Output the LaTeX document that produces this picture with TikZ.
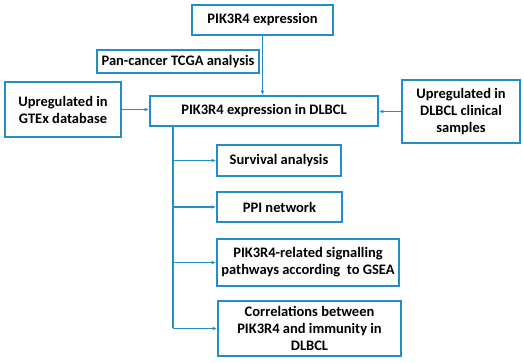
\documentclass[tikz,border=0pt]{standalone}
\usepackage{fontspec}
\setmainfont{Carlito}
\usepackage{xcolor}
\usetikzlibrary{arrows.meta}
\definecolor{boxblue}{RGB}{38,140,200}

\begin{document}
\begin{tikzpicture}[x=1pt, y=1pt, >={Latex[length=4.5pt,width=3.5pt]},
  box/.style={draw=boxblue, line width=1.6pt, inner sep=1pt, align=center,
    font=\fontsize{14.5}{17}\selectfont\bfseries},
  link/.style={draw=boxblue, line width=1.2pt, ->}]
  \useasboundingbox (0,0) rectangle (524,363);

  % Riquadri superiori
  \node[box, minimum width=141, minimum height=30] (top) at (262.5,343) {PIK3R4 expression};
  \node[box, minimum width=162, minimum height=23] (tcga) at (178,301.5) {Pan-cancer TCGA analysis};
  \node[box, minimum width=228, minimum height=30] (main) at (264,252) {PIK3R4 expression in DLBCL};
  \node[box, minimum width=116, minimum height=55] (gtex) at (63,253.5) {Upregulated in\\GTEx database};
  \node[box, minimum width=118, minimum height=63] (clin) at (461,251.5) {Upregulated in\\DLBCL clinical\\samples};

  % Analisi a valle
  \node[box, minimum width=124, minimum height=31] (surv) at (279,202.5) {Survival analysis};
  \node[box, minimum width=125, minimum height=30] (ppi) at (279.5,156) {PPI network};
  \node[box, minimum width=182, minimum height=47] (gsea) at (308,100.5) {PIK3R4-related signalling\\pathways according~ to GSEA};
  \node[box, minimum width=183, minimum height=55] (immun) at (309.5,34.5) {Correlations between\\PIK3R4 and immunity in\\DLBCL};

  % Frecce
  \draw[link] (top.south) -- (top.south |- main.north);
  \draw[link] (gtex.east) -- (gtex.east -| main.west);
  \draw[link] (clin.west) -- (clin.west -| main.east);

  \coordinate (trunk) at (173,252);
  \draw[link, -] (trunk |- main.south) -- (trunk |- immun.west);
  \foreach \n in {surv, ppi, gsea, immun}
    \draw[link] (trunk |- \n.west) -- (\n.west);
\end{tikzpicture}
\end{document}
